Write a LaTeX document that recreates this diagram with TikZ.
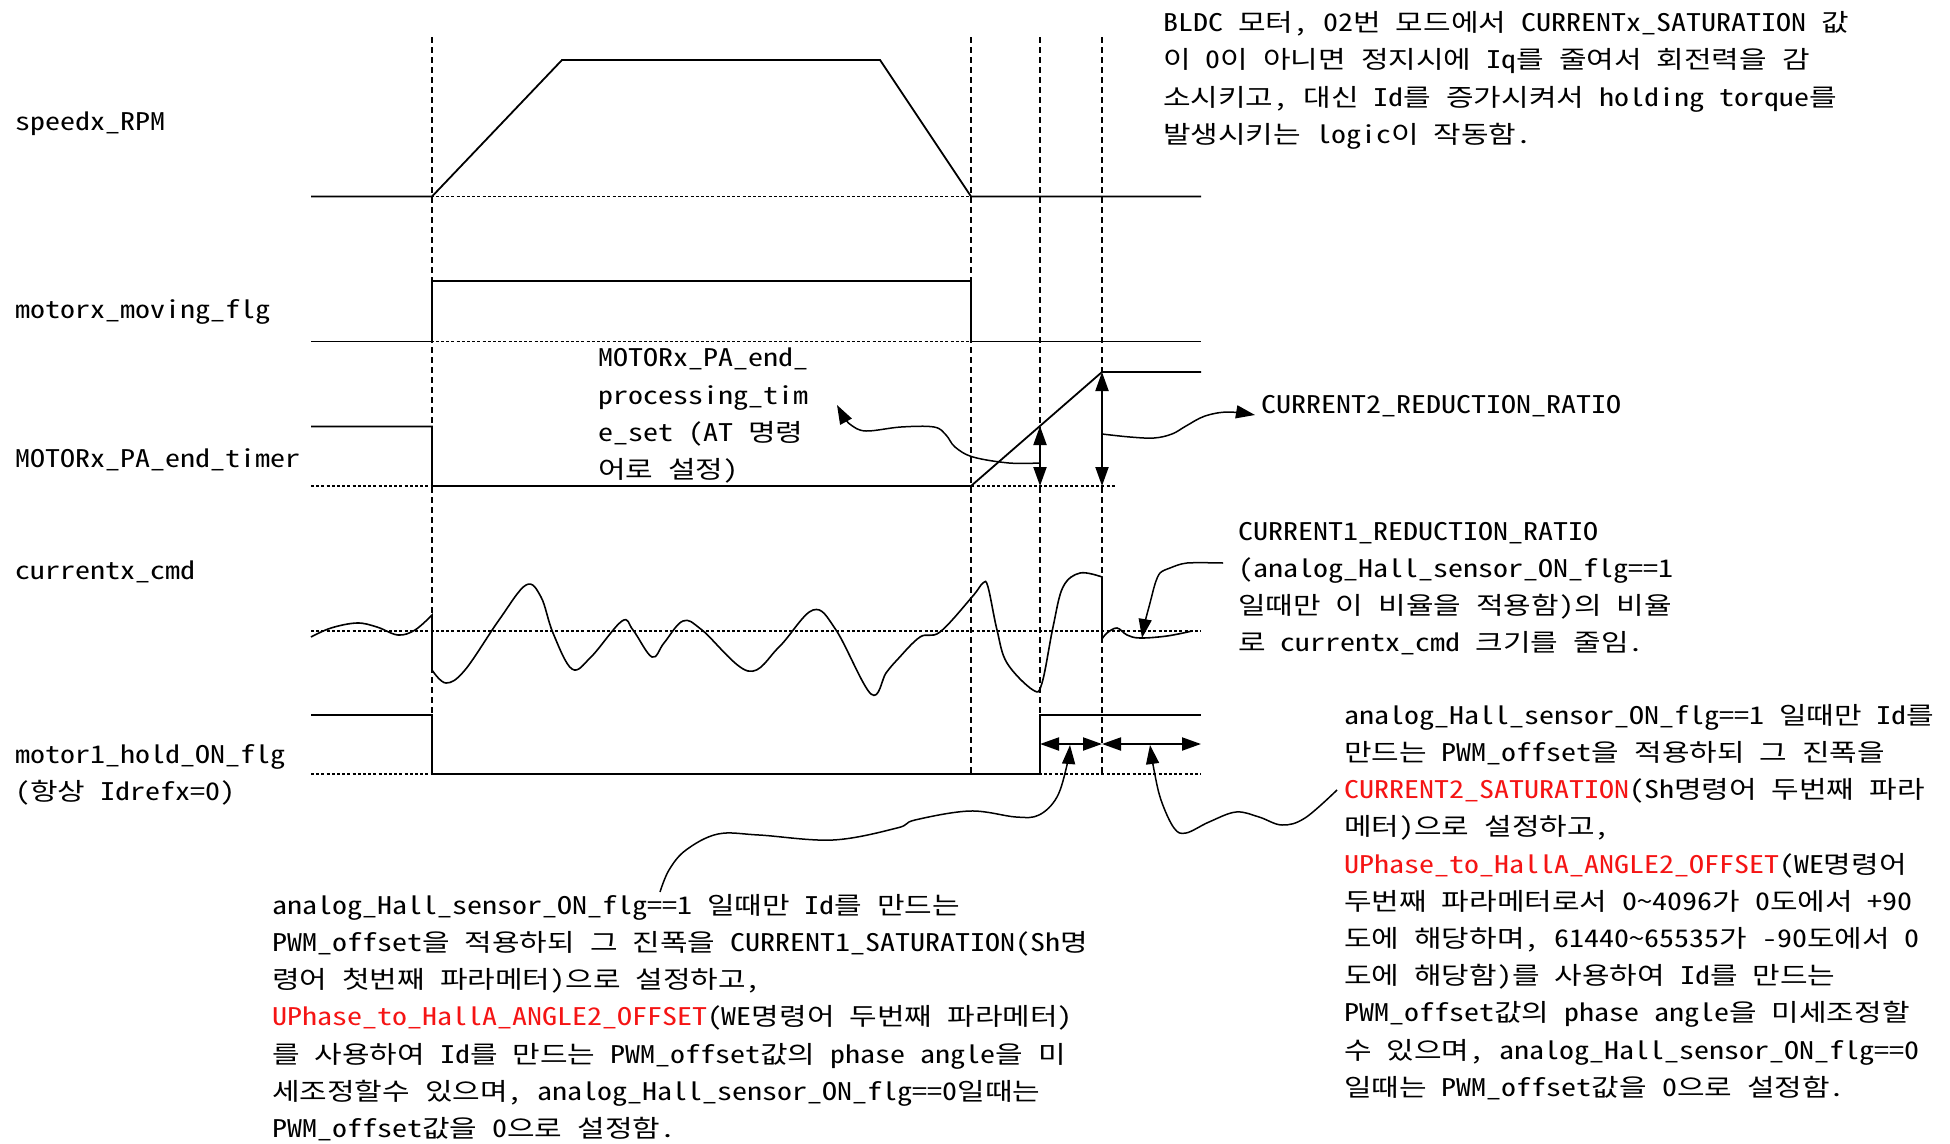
\documentclass[tikz,border=0pt]{standalone}
\usepackage{fontspec}
\newfontfamily\krmono[FakeStretch=1.234]{Noto Sans Mono CJK KR}
\usetikzlibrary{arrows.meta,positioning}
\definecolor{notered}{RGB}{245,20,20}

\begin{document}
\begin{tikzpicture}[x=1pt, y=-1pt,
        font=\krmono\fontsize{24.3}{37.2}\selectfont,
        signal/.style={line width=1.8pt},
        basel/.style={line width=1.8pt, dash pattern=on 3pt off 2.2pt},
        guide/.style={line width=1.6pt, dash pattern=on 6pt off 4pt},
        dimarrow/.style={line width=2pt, {Triangle[length=19pt,width=13pt]}-{Triangle[length=19pt,width=13pt]}},
        annot/.style={line width=1.5pt, -{Triangle[length=19pt,width=13pt]}},
        lbl/.style={anchor=base west, inner sep=0pt},
        note/.style={anchor=north west, align=left, inner sep=0pt, execute at begin node=\strut}]

        \fill[white] (0,0) rectangle (1950,1143);
        \useasboundingbox (0,0) rectangle (1950,1143);

        % Time marks
        \foreach \x in {432,971,1040,1102}
            \draw[guide] (\x,37) -- (\x,774);

        % speedx_RPM
        \node[lbl] (lblspeed) at (15,130.5) {speedx\_RPM};
        \draw[basel] (311,196.5) -- (1201,196.5);
        \draw[signal] (311,196.5) -- (432,196.5) -- (562,60) -- (880,60) -- (971,196.5) -- (1201,196.5);

        % motorx_moving_flg
        \node[lbl] (lblmoving) at (15,318.5) {motorx\_moving\_flg};
        \draw[basel] (311,341.5) -- (1201,341.5);
        \draw[signal] (311,341.5) -- (432,341.5) -- (432,281) -- (971,281) -- (971,341.5) -- (1201,341.5);

        % MOTORx_PA_end_timer
        \node[lbl] (lbltimer) at (15,467.5) {MOTORx\_PA\_end\_timer};
        \draw[basel] (311,486) -- (1115,486);
        \draw[signal] (311,426.5) -- (432,426.5) -- (432,486) -- (971,486) -- (1102,372) -- (1201,372);
        \coordinate (rampmid) at (1040,426);
        \coordinate (rampbase) at (1040,486);
        \coordinate (ramptop) at (1102,372);
        \coordinate (rampend) at (1102,486);
        \draw[dimarrow] (rampmid) -- (rampbase);
        \draw[dimarrow] (ramptop) -- (rampend);

        % currentx_cmd
        \node[lbl] (lblcurrent) at (15,579.5) {currentx\_cmd};
        \draw[basel] (311,631) -- (1201,631);
        \draw[signal, line width=1.6pt]
            plot[smooth, tension=0.6] coordinates {(311,637) (331,628) (357,623) (377,627) (398,635) (415,630) (432,615)}
            -- plot[smooth, tension=0.6] coordinates {(432,670) (446,683) (465,670) (499,620) (526,585) (541,597)
                (553,633) (572,669) (591,657) (622,621) (633,630) (652,657) (664,643) (683,621) (702,630)
                (748,671) (779,647) (813,610) (836,630) (871,694) (886,673) (897,660) (920,637) (940,632)
                (972,597) (983,583) (988,587) (997,630) (1007,663) (1033,690) (1042,683) (1053,627)
                (1063,587) (1080,573) (1102,577)}
            -- plot[smooth, tension=0.6] coordinates {(1102,639) (1107,633) (1117,628) (1127,635) (1140,638)
                (1167,636) (1192,631)};

        % motor1_hold_ON_flg
        \node[lbl, align=left] (lblhold) at (15,800.5) {motor1\_hold\_ON\_flg\\(항상 Idrefx=0)};
        \draw[basel] (311,774) -- (1201,774);
        \draw[signal] (311,715) -- (432,715) -- (432,774) -- (1040,774) -- (1040,715) -- (1201,715);
        \coordinate (holdstart) at (1040,744);
        \coordinate (holdmid) at (1102,744);
        \coordinate (holdend) at (1201,744);
        \draw[dimarrow] (holdstart) -- (holdmid);
        \draw[dimarrow] (holdmid) -- (holdend);

        % Note: BLDC mode 02
        \node[note] (notebldc) at (1163,11.5) {BLDC 모터, 02번 모드에서 CURRENTx\_SATURATION 값\\
            이 0이 아니면 정지시에 Iq를 줄여서 회전력을 감\\
            소시키고, 대신 Id를 증가시켜서 holding torque를\\
            발생시키는 logic이 작동함.};

        % Note: PA end processing time
        \node[note] (notepa) at (598,348) {MOTORx\_PA\_end\_\\
            processing\_tim\\
            e\_set (AT 명령\\
            어로 설정)};
        \coordinate (patail) at (1039,463);
        \draw[annot] plot[smooth, tension=0.6] coordinates {(patail) (1009,463) (973,457) (955,447) (946,435)
            (934,427) (901,427) (866,431) (851,425) (844,417) (837,405)};

        % Note: CURRENT2_REDUCTION_RATIO
        \node[lbl] (noteratiotwo) at (1261,413) {CURRENT2\_REDUCTION\_RATIO};
        \coordinate (ratiotwotail) at (1102,434);
        \draw[annot] plot[smooth, tension=0.6] coordinates {(ratiotwotail) (1130,437) (1154,438) (1172,434)
            (1186,426) (1205,416) (1228,412) (1255,415)};

        % Note: CURRENT1_REDUCTION_RATIO
        \node[note] (noteratioone) at (1238,522) {CURRENT1\_REDUCTION\_RATIO\\
            (analog\_Hall\_sensor\_ON\_flg==1\\
            일때만 이 비율을 적용함)의 비율\\
            로 currentx\_cmd 크기를 줄임.};
        \coordinate (ratioonefoot) at (1223,563);
        \draw[annot] plot[smooth, tension=0.5] coordinates {(ratioonefoot) (1187,563) (1170,568) (1160,573)
            (1155,584) (1150,603) (1145,622) (1142,638)};

        % Note: hold, first interval
        \node[note] (noteholdleft) at (272,894) {analog\_Hall\_sensor\_ON\_flg==1 일때만 Id를 만드는\\
            PWM\_offset을 적용하되 그 진폭을 CURRENT1\_SATURATION(Sh명\\
            령어 첫번째 파라메터)으로 설정하고,\\
            \textcolor{notered}{UPhase\_to\_HallA\_ANGLE2\_OFFSET}(WE명령어 두번째 파라메터)\\
            를 사용하여 Id를 만드는 PWM\_offset값의 phase angle을 미\\
            세조정할수 있으며, analog\_Hall\_sensor\_ON\_flg==0일때는\\
            PWM\_offset값을 0으로 설정함.};
        \coordinate (holdlefttail) at (660,892);
        \draw[annot] plot[smooth, tension=0.6] coordinates {(holdlefttail) (669,870) (686,850) (718,834)
            (759,835) (833,840) (897,828) (915,820) (970,811) (1016,817) (1039,815) (1057,797) (1067,765)
            (1070,745)};

        % Note: hold, second interval
        \node[note] (noteholdright) at (1344,704) {analog\_Hall\_sensor\_ON\_flg==1 일때만 Id를\\
            만드는 PWM\_offset을 적용하되 그 진폭을\\
            \textcolor{notered}{CURRENT2\_SATURATION}(Sh명령어 두번째 파라\\
            메터)으로 설정하고,\\
            \textcolor{notered}{UPhase\_to\_HallA\_ANGLE2\_OFFSET}(WE명령어\\
            두번째 파라메터로서 0\textasciitilde4096가 0도에서 +90\\
            도에 해당하며, 61440\textasciitilde65535가 -90도에서 0\\
            도에 해당함)를 사용하여 Id를 만드는\\
            PWM\_offset값의 phase angle을 미세조정할\\
            수 있으며, analog\_Hall\_sensor\_ON\_flg==0\\
            일때는 PWM\_offset값을 0으로 설정함.};
        \coordinate (holdrighttail) at (1337,790);
        \draw[annot] plot[smooth, tension=0.6] coordinates {(holdrighttail) (1305,818) (1282,825) (1259,817)
            (1236,812) (1209,822) (1186,833) (1174,828) (1161,800) (1154,770) (1150,745)};

\end{tikzpicture}
\end{document}
